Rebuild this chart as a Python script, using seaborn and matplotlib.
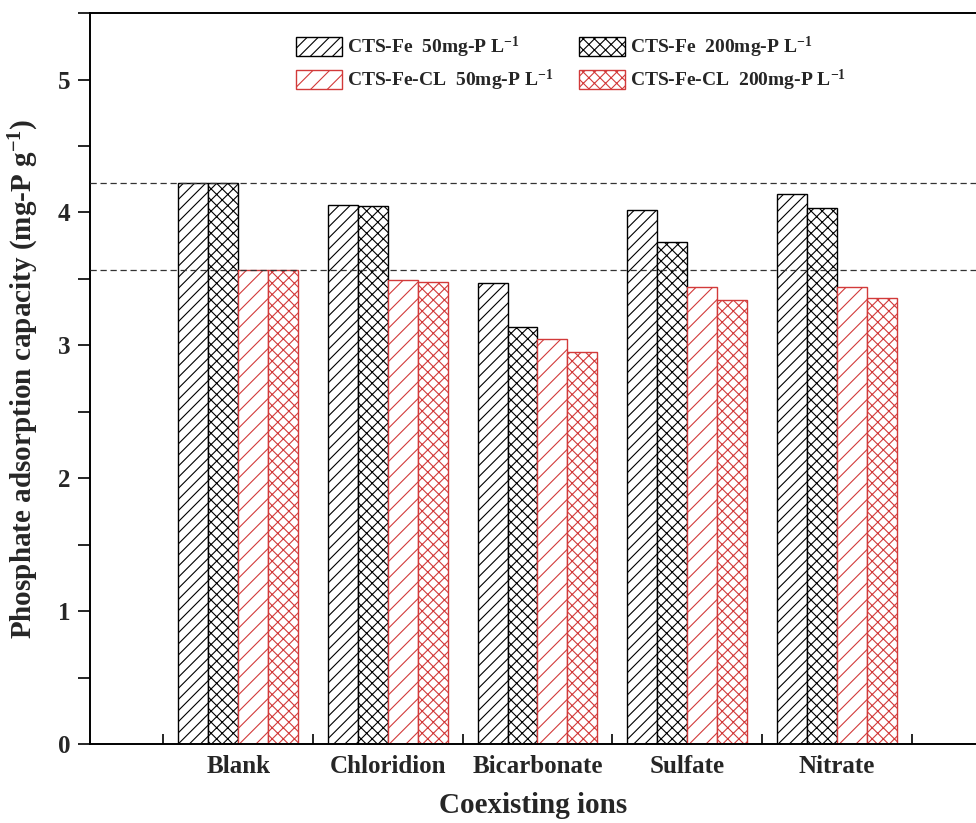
import matplotlib
matplotlib.use("Agg")
import matplotlib.pyplot as plt
import numpy as np
import pandas as pd
import seaborn as sns
from matplotlib.patches import Patch
from matplotlib.ticker import MultipleLocator, FixedLocator

# Coexisting ions tested
ions = ["Blank", "Chloridion", "Bicarbonate", "Sulfate", "Nitrate"]

# Adsorbent / initial phosphate concentration series
series = [
    "CTS-Fe  50mg-P L$^{-1}$",
    "CTS-Fe  200mg-P L$^{-1}$",
    "CTS-Fe-CL  50mg-P L$^{-1}$",
    "CTS-Fe-CL  200mg-P L$^{-1}$",
]

# Phosphate adsorption capacity (mg-P g^-1)
cts_fe_50 = [4.22, 4.06, 3.47, 4.02, 4.14]
cts_fe_200 = [4.22, 4.05, 3.14, 3.78, 4.03]
cts_fe_cl_50 = [3.57, 3.49, 3.05, 3.44, 3.44]
cts_fe_cl_200 = [3.57, 3.48, 2.95, 3.34, 3.36]

# Blank-level reference lines
reference_levels = [4.22, 3.57]

RED = "#d23a3a"
edge_colors = ["black", "black", RED, RED]
hatches = ["///", "xxx", "//", "xxx"]

sns.set_theme(style="ticks")
plt.rcParams.update({
    "font.family": ["Liberation Serif", "DejaVu Serif"],
    "font.weight": "bold",
    "axes.labelweight": "bold",
    "mathtext.fontset": "custom",
    "mathtext.rm": "Liberation Serif:bold",
    "mathtext.it": "Liberation Serif:italic:bold",
    "mathtext.bf": "Liberation Serif:bold",
    "mathtext.default": "rm",
    "hatch.linewidth": 0.8,
})

values = [cts_fe_50, cts_fe_200, cts_fe_cl_50, cts_fe_cl_200]
df = pd.DataFrame({
    "ion": np.tile(ions, len(series)),
    "series": np.repeat(series, len(ions)),
    "capacity": np.concatenate(values),
})

fig = plt.figure(figsize=(9.76, 8.23), dpi=100)
ax = fig.add_axes([0.0922, 0.096, 0.9078, 0.888])

sns.barplot(
    data=df, x="ion", y="capacity", hue="series", order=ions,
    hue_order=series, palette=["white"] * 4, saturation=1,
    width=0.8, legend=False, ax=ax, linewidth=1.0, edgecolor="black",
    errorbar=None,
)

for container, ec, h in zip(ax.containers, edge_colors, hatches):
    for bar in container:
        bar.set_facecolor("white")
        bar.set_edgecolor(ec)
        bar.set_hatch(h)
        bar.set_linewidth(1.0)

for lvl in reference_levels:
    ax.axhline(lvl, color="#333333", lw=0.9, ls=(0, (5, 3)), zorder=5)

ax.set_ylim(0, 5.5)
ax.set_xlim(-0.99, 4.93)

ax.yaxis.set_major_locator(MultipleLocator(1))
ax.yaxis.set_minor_locator(MultipleLocator(0.5))
ax.tick_params(axis="y", which="both", direction="out", length=9, width=1.4,
               labelsize=18, pad=5)

ax.xaxis.set_minor_locator(FixedLocator(np.arange(-0.5, 5.0, 1.0)))
ax.tick_params(axis="x", which="major", length=0, labelsize=18, pad=8)
ax.tick_params(axis="x", which="minor", direction="in", length=7, width=1.4)

for lab in ax.get_xticklabels() + ax.get_yticklabels():
    lab.set_fontweight("bold")

for side in ["left", "bottom", "top"]:
    ax.spines[side].set_linewidth(1.4)
    ax.spines[side].set_color("black")
ax.spines["right"].set_visible(False)

ax.set_xlabel("Coexisting ions", fontsize=21, fontweight="bold", labelpad=10)
ax.set_ylabel("Phosphate adsorption capacity (mg-P g$^{-1}$)", fontsize=21,
              fontweight="bold", labelpad=12)

handles = [Patch(facecolor="white", edgecolor=ec, hatch=h, linewidth=1.0)
           for ec, h in zip(edge_colors, hatches)]
# order legend row-wise: 50 / 200 for CTS-Fe on top, CTS-Fe-CL below
order = [0, 2, 1, 3]
ax.legend([handles[i] for i in order], [series[i] for i in order],
          ncol=2, frameon=False, loc="upper left",
          bbox_to_anchor=(0.232, 0.970), borderaxespad=0, borderpad=0,
          handlelength=2.4, handleheight=1.1,
          handletextpad=0.25, columnspacing=1.3, labelspacing=0.4,
          prop={"weight": "bold", "size": 14})

fig.savefig("out.png", dpi=100)
